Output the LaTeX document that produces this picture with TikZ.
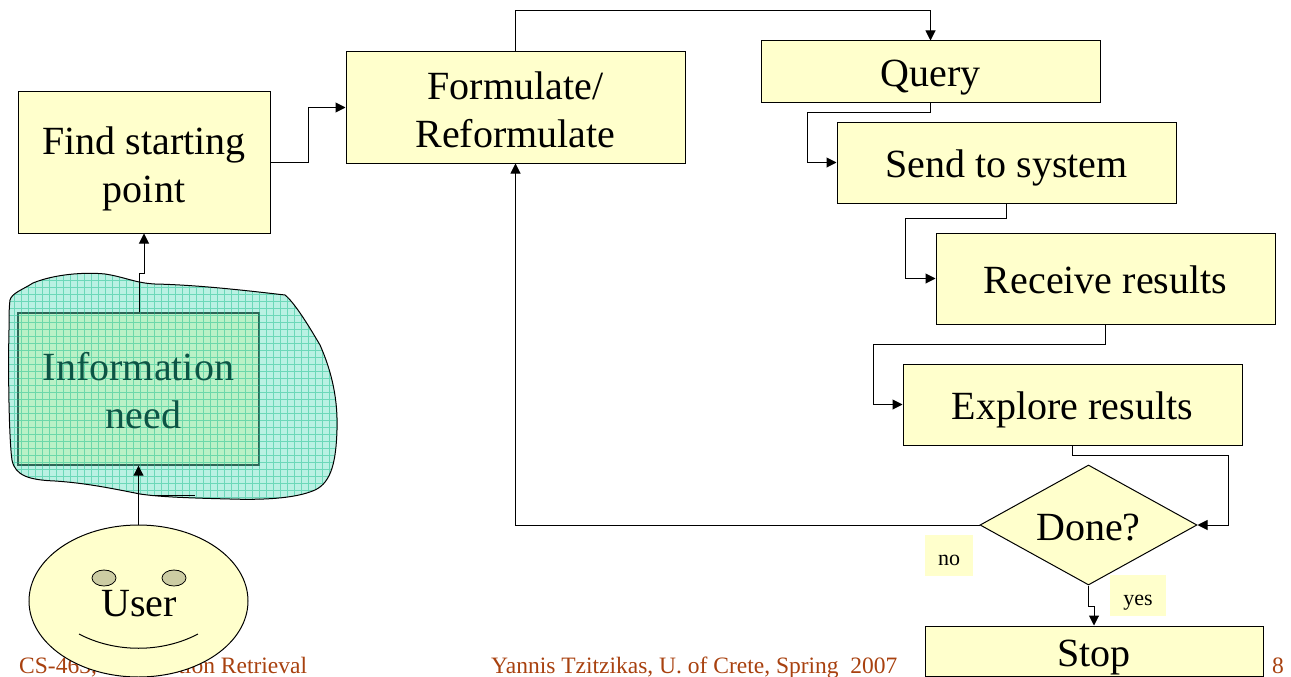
\documentclass[tikz,border=0pt]{standalone}
\usepackage{fontspec}
\setmainfont{Liberation Serif}
\usetikzlibrary{arrows.meta,shapes.geometric}
\definecolor{boxfill}{HTML}{FFFFCC}
\definecolor{footbrown}{HTML}{A8410F}
\definecolor{blobfill}{HTML}{66E0C0}
\definecolor{blobgrid}{HTML}{1FC08F}
\definecolor{infotext}{HTML}{0C5545}
\tikzset{
  bigtext/.style={font=\fontsize{40}{48}\selectfont},
  flowbox/.style={draw=black,fill=boxfill,line width=1pt,align=center,bigtext,inner sep=0pt,text depth=0pt,text height=30pt},
  twolines/.style={text height=79pt},
  link/.style={draw=black,line width=1pt,-{Triangle[length=10pt,width=10pt]}},
  tag/.style={fill=boxfill,font=\fontsize{22}{26}\selectfont,inner sep=0pt,text depth=0pt,text height=19pt},
  foot/.style={text=footbrown,font=\fontsize{23.5}{27}\selectfont,anchor=base west,inner sep=0pt},
  eye/.style={draw=black,fill=boxfill!80!black,ellipse,line width=0.8pt,minimum width=24pt,minimum height=16pt,inner sep=0pt}
}
\begin{document}
\begin{tikzpicture}[x=1pt,y=-1pt]
\useasboundingbox (0,0) rectangle (1291,677);
% footer
\node[foot] (course) at (19,673) {CS-463, Information Retrieval};
\node[foot] (lecturer) at (491,673) {Yannis Tzitzikas, U. of Crete, Spring\ \ 2007};
\node[foot] (page) at (1272,673) {8};
% boxes
\node[flowbox,twolines,minimum width=252pt,minimum height=141pt] (find) at (144,162.5) {Find starting\\point};
\node[flowbox,twolines,minimum width=339pt,minimum height=111pt] (formulate) at (515.5,107.5) {Formulate/\\Reformulate};
\node[flowbox,minimum width=339pt,minimum height=61pt] (query) at (930.5,71.5) {Query};
\node[flowbox,minimum width=339pt,minimum height=81pt] (send) at (1006.5,162.5) {Send to system};
\node[flowbox,minimum width=339pt,minimum height=91pt] (receive) at (1105.5,278.5) {Receive results};
\node[flowbox,minimum width=339pt,minimum height=81pt] (explore) at (1072.5,404.5) {Explore results};
\node[flowbox,diamond,aspect=1.808,minimum width=217pt,minimum height=120pt,text height=0pt] (done) at (1088.5,525) {};
\node[bigtext,inner sep=0pt,text depth=0pt,text height=30pt] (donetext) at (1088.5,525) {Done?};
\node[flowbox,minimum width=338pt,minimum height=50pt] (stop) at (1094,651) {Stop};
\node[flowbox,line width=1.4pt,minimum width=241pt,minimum height=152pt,text height=0pt] (info) at (138.5,389) {};
\node[tag,minimum width=48pt,minimum height=41pt] (no) at (949,555.5) {no};
\node[tag,minimum width=56pt,minimum height=41pt] (yes) at (1138,595.5) {yes};
% user face
\node[draw=black,fill=boxfill,ellipse,line width=1pt,minimum width=219pt,minimum height=152pt,inner sep=0pt] (user) at (138.5,601) {};
\node[eye] (lefteye) at (104,578) {};
\node[eye] (righteye) at (174,578) {};
\node[bigtext,inner sep=0pt,text depth=0pt,text height=28pt] (usertext) at (139,602) {User};
\coordinate (smileleft) at (79,634);
\coordinate (smileright) at (198,634);
\draw[line width=1pt] (smileleft) .. controls (115,653) and (162,653) .. (smileright);
% connectors
\draw[link] (find.east) -- (308,162.5) -- (308,107.5) -- (formulate.west);
\draw[link] (formulate.north) -- (515.5,11) -- (930.5,11) -- (query.north);
\draw[link] (query.south) -- (930.5,112) -- (807,112) -- (807,162.5) -- (send.west);
\draw[link] (send.south) -- (1006.5,218) -- (905,218) -- (905,278.5) -- (receive.west);
\draw[link] (receive.south) -- (1105.5,344) -- (873,344) -- (873,404.5) -- (explore.west);
\draw[link] (explore.south) -- (1072.5,455) -- (1228,455) -- (1228,525) -- (done.east);
\draw[link] (done.west) -- (515.5,525) -- (formulate.south);
\draw[link] (done.south) -- (1088.5,606) -- (1094,606) -- (stop.north);
% cloud over the information need box
\def\blobpath{(10,300) .. controls (12,293) and (22,290) .. (33,283)
  .. controls (55,274) and (85,272) .. (105,274)
  .. controls (125,277) and (135,283) .. (155,284)
  .. controls (200,285) and (250,291) .. (285,295)
  .. controls (295,303) and (310,328) .. (320,345)
  .. controls (332,372) and (338,400) .. (337,430)
  .. controls (336,460) and (332,482) .. (315,490)
  .. controls (295,499) and (260,500) .. (230,499)
  .. controls (190,498) and (160,497) .. (140,494)
  .. controls (110,488) and (85,483) .. (55,481)
  .. controls (30,480) and (15,476) .. (12,460)
  .. controls (9,440) and (8,370) .. (9,330) .. controls (9,318) and (9,308) .. (10,300) -- cycle}
\fill[blobfill,fill opacity=0.45] \blobpath;
\begin{scope}
\clip \blobpath;
\draw[blobgrid,line width=0.6pt,opacity=0.5,step=7pt] (0,266) grid (343,504);
\end{scope}
\draw[line width=1pt] \blobpath;
\coordinate (markleft) at (151,495);
\coordinate (markright) at (195,495);
\draw[line width=1pt] (markleft) -- (markright);
\node[bigtext,text=infotext,align=center,inner sep=0pt,text depth=0pt,text height=78pt] (infolabel) at (info.center) {Information\\\hspace*{10pt}need};
% connectors of the box under the cloud
\coordinate (infojog) at (139,273);
\coordinate (findjog) at (144,273);
\draw[link] (info.north -| infojog) -- (infojog) -- (findjog) -- (find.south -| findjog);
\draw[link] (user.north) -- (info.south -| user.north);
\end{tikzpicture}
\end{document}
